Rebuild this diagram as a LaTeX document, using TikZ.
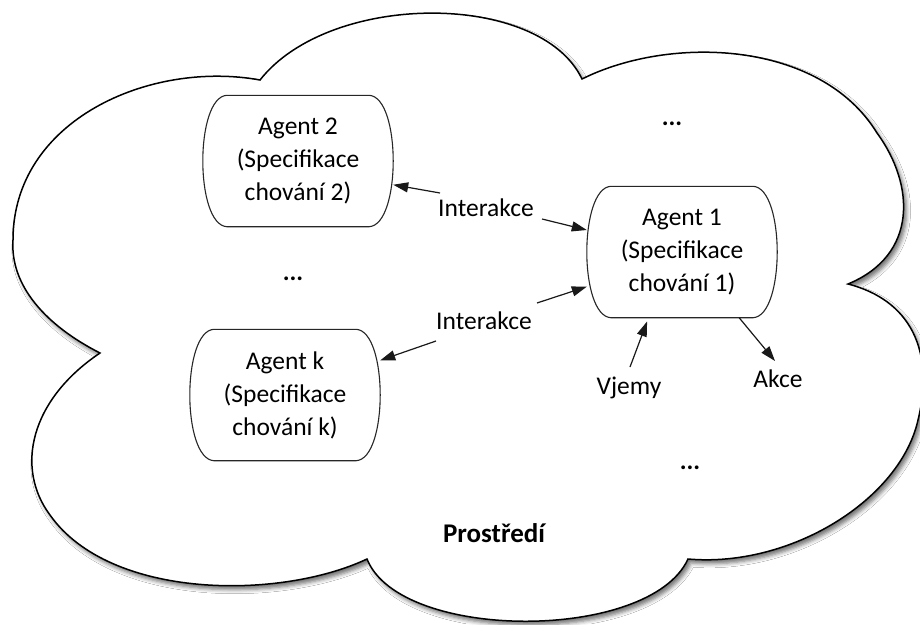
\documentclass[tikz,border=0pt]{standalone}
\usepackage{fontspec}
\setmainfont{Carlito}
\usetikzlibrary{arrows.meta,shadows.blur}
\begin{document}
\begin{tikzpicture}[x=1pt,y=-1pt,
  agent/.style={rectangle, inner sep=0pt, minimum width=190pt, minimum height=131pt,
    align=center, font=\fontsize{25.5}{33}\selectfont},
  boxline/.style={draw=black!85, line width=1.1pt},
  lbl/.style={inner sep=0pt, font=\fontsize{25.5}{33}\selectfont},
  arr/.style={line width=1.2pt, draw=black!90, -{Triangle[length=15pt,width=10pt]}},
  cloudshape/.style={draw=black, line width=1.5pt, fill=white,
    blur shadow={shadow xshift=3pt, shadow yshift=-4pt, shadow blur radius=4pt, shadow opacity=55}}
]
\fill[white] (0,0) rectangle (920,624);
\useasboundingbox (0,0) rectangle (920,624);

\path[cloudshape] (260,80) .. controls (330,-9) and (540,-9) .. (582,79)
 .. controls (670,35) and (820,40) .. (877,133)
 .. controls (915,185) and (918,255) .. (848,284)
 .. controls (910,300) and (935,350) .. (918,420)
 .. controls (900,500) and (790,568) .. (688,559)
 .. controls (650,642) and (400,642) .. (367,559)
 .. controls (280,600) and (110,600) .. (50,515)
 .. controls (15,468) and (30,400) .. (100,353)
 .. controls (45,325) and (10,285) .. (13,240)
 .. controls (13,120) and (150,60) .. (260,80) -- cycle;

\node[agent] (a2) at (298,161) {Agent 2\\(Specifikace\\chování 2)};
\node[agent] (a1) at (682,252) {Agent 1\\(Specifikace\\chování 1)};
\node[agent] (ak) at (285,395) {Agent k\\(Specifikace\\chování k)};

\foreach \n in {a2,a1,ak}{
  \draw[boxline] ([xshift=24pt]\n.north west) -- ([xshift=-24pt]\n.north east)
    .. controls ([xshift=8pt,yshift=-2pt]\n.north east) and ([xshift=8pt,yshift=2pt]\n.south east) .. ([xshift=-24pt]\n.south east)
    -- ([xshift=24pt]\n.south west)
    .. controls ([xshift=-8pt,yshift=2pt]\n.south west) and ([xshift=-8pt,yshift=-2pt]\n.north west) .. ([xshift=24pt]\n.north west)
    -- cycle;
}

\node[lbl, anchor=base] (i1) at (486,216) {Interakce};
\node[lbl, anchor=base] (i2) at (484,329) {Interakce};
\node[lbl, anchor=base] (vj) at (629,394) {Vjemy};
\node[lbl, anchor=base] (ac) at (778,387) {Akce};
\node[lbl, anchor=base, font=\fontsize{27}{33}\selectfont\bfseries] (env) at (494,542) {Prostředí};

\node[lbl] (d1) at (293,279) {\textbf{...}};
\node[lbl] (d2) at (672,124) {\textbf{...}};
\node[lbl] (d3) at (690,468) {\textbf{...}};

\coordinate (t1a) at (440,193);
\coordinate (t1b) at (542,219);
\coordinate (t2a) at (537,303);
\coordinate (t2b) at (436,341);
\coordinate (tv) at (630,367);
\coordinate (ta) at (775,361);

\draw[arr] (t1a) -- (a2.-14);
\draw[arr] (t1b) -- (a1.167);
\draw[arr] (t2a) -- (a1.200);
\draw[arr] (t2b) -- (ak.20);
\draw[arr, shorten >=4pt] (tv) -- (a1.243);
\draw[arr] (a1.-49) -- (ta);
\end{tikzpicture}
\end{document}
